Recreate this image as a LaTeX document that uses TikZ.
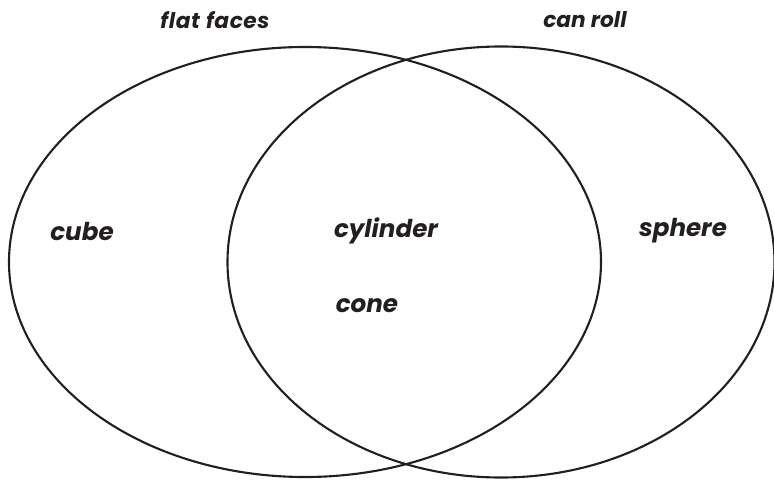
\documentclass[tikz,border=0pt]{standalone}
\usepackage{fontspec}
\setmainfont{Poppins}
\usepackage{tikz}
\usetikzlibrary{positioning,shapes.geometric}
\definecolor{inkline}{HTML}{231F20}
\definecolor{inktext}{HTML}{231F20}
\tikzset{
    setring/.style={
        draw=inkline, ellipse, line width=1.8pt,
        inner sep=0pt
    },
    settitle/.style={
        text=inktext, font=\fontsize{18.5}{22}\selectfont\bfseries\itshape
    },
    member/.style={
        text=inktext, font=\fontsize{21}{25}\selectfont\bfseries\itshape
    },
}

\begin{document}
\begin{tikzpicture}[x=0.03cm, y=-0.03cm]
        \useasboundingbox (0,0) rectangle (774,480);
        \node[setring, minimum width=17.76cm, minimum height=12.9cm] (flat) at (305,262) {};
        \node[setring, minimum width=16.41cm, minimum height=12.93cm] (roll) at (501,262) {};
        \node[settitle] (flatlbl) at (215,20) {f\kern0.5pt l\kern0.5pt a\kern0.5pt t\kern1pt\ f\kern0.5pt a\kern0.5pt c\kern0.5pt e\kern0.5pt s};
        \node[settitle] (rolllbl) at (585,20) {can roll};
        \node[member] (cube) at (82,231) {cube};
        \node[member] (cylinder) at (386,231) {cylinder};
        \node[member] (cone) at (367,306) {cone};
        \node[member] (sphere) at (683,231) {sphere};
    \end{tikzpicture}
\end{document}
